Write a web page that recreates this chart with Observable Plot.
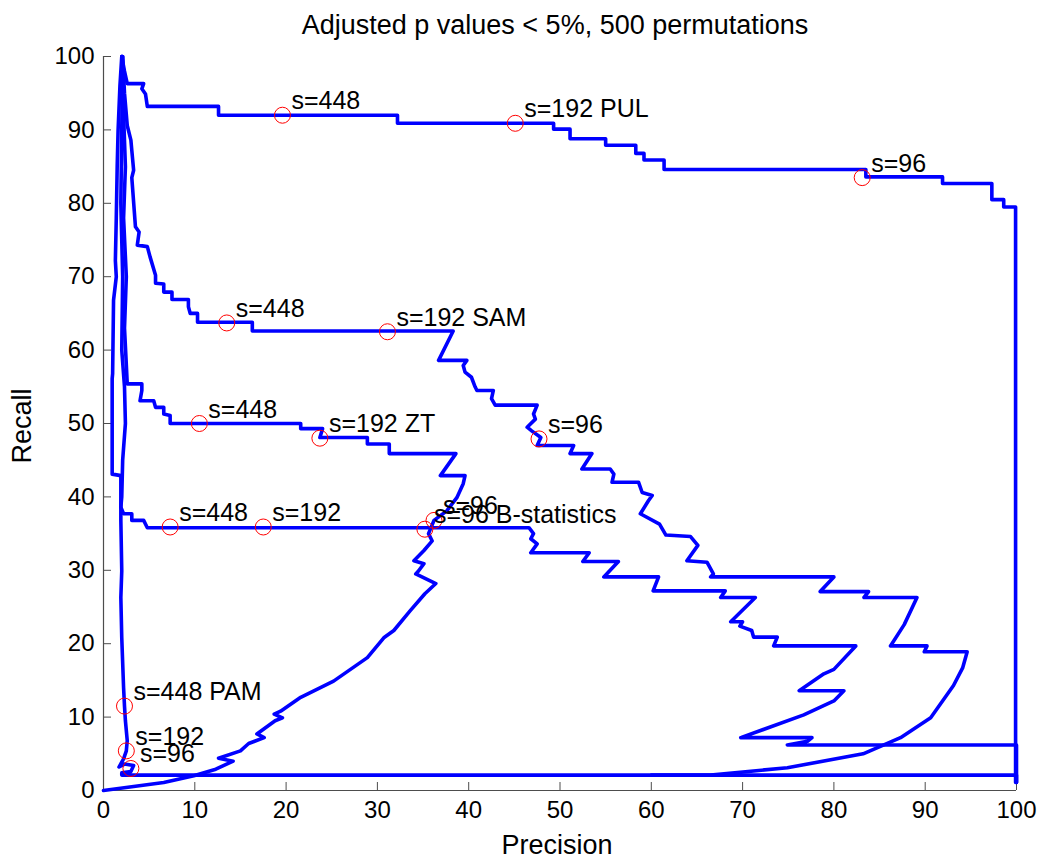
<!DOCTYPE html>
<html>
<head>
<meta charset="utf-8">
<script src="https://cdn.jsdelivr.net/npm/d3@7"></script>
<script src="https://cdn.jsdelivr.net/npm/@observablehq/plot@0.6"></script>
<style>
  html, body { margin: 0; padding: 0; background: #fff; }
  #wrap { width: 1040px; height: 861px; position: relative; font-family: "Liberation Sans", Arial, sans-serif; }
  #title { height: 46px; line-height: 50px; padding-left: 94px; width: 922px; text-align: center; font-size: 27px; color: #000; white-space: nowrap; }
  svg { display: block; }
</style>
</head>
<body>
<div id="wrap">
  <div id="title">Adjusted p values &lt; 5%, 500 permutations</div>
  <div id="chart"></div>
</div>
<script>
// ---- data (precision %, recall %) ----
const pul = [[2.0,100],[2.3,98],[2.6,96.3],[4.4,96.3],[4.2,95.6],[4.6,94.9],[4.8,93.2],[12.6,93.2],[12.6,92.0],[32.2,92.0],[32.2,90.9],[49.3,90.9],[49.3,90.1],[51.1,90.1],[51.1,88.8],[55.0,88.8],[55.0,87.9],[58.3,87.9],[58.3,86.8],[59.2,86.8],[59.2,85.9],[61.4,85.9],[61.4,84.6],[83.5,84.6],[83.5,83.6],[91.9,83.6],[91.9,82.7],[97.3,82.7],[97.3,80.5],[98.6,80.5],[98.6,79.5],[99.9,79.5],[99.9,1.1]];

const sam = [[2.1,100],[2.3,95],[2.6,90.6],[3.0,88.6],[3.1,87.2],[3.3,84.5],[3.1,83.5],[3.5,76.8],[3.9,76.1],[3.7,74.3],[4.8,74.1],[5.1,72.7],[5.7,70.2],[5.7,69.1],[6.6,69.0],[6.6,67.9],[7.5,67.9],[7.5,66.9],[9.3,66.9],[9.3,65.9],[9.5,65.0],[10.3,65.0],[10.3,63.8],[16.3,63.8],[16.3,62.6],[38.3,62.6],[36.7,58.6],[39.8,58.6],[39.4,57.9],[39.6,57.0],[40.3,56.3],[40.7,55.0],[40.9,54.5],[42.7,54.5],[42.5,53.4],[42.9,52.5],[47.5,52.5],[47.1,51.3],[47.3,50.6],[46.4,49.5],[46.9,49.0],[47.9,48.1],[47.5,47.0],[51.5,47.0],[51.1,45.9],[53.5,45.9],[52.4,43.8],[55.5,43.8],[55.9,43.1],[55.7,42.0],[58.6,42.0],[59.0,40.6],[60.1,40.2],[59.7,39.5],[58.8,37.7],[60.9,36.3],[61.6,34.8],[64.3,34.6],[65.1,33.4],[63.9,31.3],[66.1,31.1],[66.8,29.5],[66.5,29.1],[80.0,29.1],[78.5,27.1],[83.8,27.1],[83.3,26.3],[89.1,26.3],[87.7,22.6],[86.2,19.7],[90.2,19.7],[89.9,18.9],[94.6,18.9],[94.1,16.7],[93.1,14.3],[90.6,9.9],[87.3,7.2],[83.2,5.0],[74.9,3.1],[66.5,2.1],[60.0,2.1]];

const zt = [[2.0,100],[2.2,92],[2.4,85],[2.2,78],[2.5,70],[2.3,63],[2.5,58],[2.6,55.4],[4.2,55.4],[4.2,54.5],[4.0,53.1],[5.5,53.1],[5.7,52.2],[6.6,52.2],[6.6,51.3],[7.3,51.1],[7.3,50.0],[21.6,50.0],[21.6,49.3],[24.0,49.3],[23.7,48.1],[28.9,48.1],[28.9,47.2],[31.3,47.2],[31.3,45.9],[38.6,45.9],[36.9,42.9],[39.6,42.9],[39.4,41.8],[38.7,39.9],[37.6,38.1],[36.2,36.8],[35.6,35.0],[36.0,34.0],[35.1,32.7],[34.0,31.3],[35.1,30.9],[34.5,29.9],[34.2,29.5],[36.4,28.2],[35.2,26.8],[33.6,24.5],[31.8,21.8],[30.7,20.8],[28.9,18.1],[25.2,14.9],[21.6,12.7],[19.4,10.8],[18.7,10.4],[19.6,9.9],[18.8,9.5],[16.8,7.7],[17.6,7.2],[15.9,6.4],[15.0,5.4],[12.6,4.4],[14.2,4.0],[12.3,2.9],[9.9,2.0],[6.6,1.1],[0,0]];

const bstat = [[2.1,100],[2.0,90],[1.9,80],[2.1,70],[2.0,60],[2.3,55],[2.4,50],[2.1,45],[2.0,40],[1.9,38.6],[2.2,37.7],[3.1,37.7],[3.1,36.8],[4.4,36.8],[4.8,35.8],[46.6,35.8],[47.1,35.0],[46.8,34.3],[47.5,33.6],[46.8,32.4],[53.2,32.4],[52.5,31.2],[56.4,31.2],[54.8,29.1],[60.8,29.1],[60.2,27.2],[68.1,27.2],[67.6,26.3],[71.4,26.3],[68.7,23.0],[70.0,23.0],[69.7,22.4],[71.0,21.8],[71.2,20.9],[73.8,20.9],[73.4,19.7],[82.4,19.7],[80.0,16.5],[78.9,15.9],[76.2,13.6],[81.1,13.6],[80.0,12.2],[76.7,10.3],[69.8,7.2],[77.6,7.2],[77.1,6.7],[74.9,6.2],[100,6.2],[100,1.1]];

const pam = [[2.0,100],[1.8,96],[1.6,90],[1.5,85],[1.4,78],[1.3,72.2],[1.4,70.0],[1.1,66.8],[1.0,56.8],[0.95,56.1],[0.95,43.1],[1.9,42.9],[1.9,36.8],[2.0,29.9],[1.9,26.3],[2.0,20.8],[2.2,14.0],[2.3,11.5],[2.4,9.5],[2.6,6.8],[2.5,5.4],[2.2,4.3],[1.7,3.2],[2.3,3.6],[3.3,3.4],[3.0,2.6],[2.0,2.4],[2.0,2.1],[100,2.1],[100,1.1]];

// marked points: [precision, recall, label]
const pulMarks   = [[19.6,92.0,"s=448"],[45.1,90.9,"s=192 PUL"],[83.1,83.5,"s=96"]];
const samMarks   = [[13.5,63.7,"s=448"],[31.1,62.5,"s=192 SAM"],[47.7,47.9,"s=96"]];
const ztMarks    = [[10.5,50.0,"s=448"],[23.7,48.0,"s=192 ZT"],[36.2,36.8,"s=96"]];
const bstatMarks = [[7.3,35.9,"s=448"],[17.5,35.9,"s=192"],[35.2,35.6,"s=96 B-statistics"]];
const pamMarks   = [[2.3,11.5,"s=448 PAM"],[2.5,5.4,"s=192"],[3.0,3.0,"s=96"]];

const xTicks = [0,10,20,30,40,50,60,70,80,90,100];
const yTicks = [0,10,20,30,40,50,60,70,80,90,100];

// ---- build tables ----
const series = {PUL: pul, SAM: sam, ZT: zt, B: bstat, PAM: pam};
const lineRows = [];
for (const [name, pts] of Object.entries(series)) pts.forEach(([x, y]) => lineRows.push({name, x, y}));
const markRows = [...pulMarks, ...samMarks, ...ztMarks, ...bstatMarks, ...pamMarks].map(([x, y, label]) => ({x, y, label}));

const axisColor = "#4d4d4d";
const font = "'Liberation Sans', Arial, sans-serif";

const chart = Plot.plot({
  width: 1040,
  height: 815,
  marginLeft: 103,
  marginRight: 24,
  marginTop: 10,
  marginBottom: 71,
  x: {domain: [0, 100]},
  y: {domain: [0, 100]},
  style: {fontFamily: font, fontSize: "24px", color: "#000", background: "#fff", overflow: "visible"},
  marks: [
    Plot.axisX(xTicks, {tickSize: 0, tickPadding: 10, fontSize: 24, label: null, tickFormat: d => String(d)}),
    Plot.axisY(yTicks, {tickSize: 0, tickPadding: 9, fontSize: 24, label: null, tickFormat: d => String(d)}),
    Plot.tickX(xTicks, {x: d => d, insetTop: 726, stroke: axisColor, strokeWidth: 1}),
    Plot.tickY(yTicks, {y: d => d, insetRight: 905, stroke: axisColor, strokeWidth: 1}),
    Plot.ruleX([0], {stroke: axisColor, strokeWidth: 1.2}),
    Plot.ruleY([0], {stroke: axisColor, strokeWidth: 1.2}),
    Plot.line(lineRows, {x: "x", y: "y", z: "name", stroke: "#0000ff", strokeWidth: 3.6, strokeLinejoin: "round", strokeLinecap: "round", curve: "linear"}),
    Plot.dot(markRows, {x: "x", y: "y", r: 8, stroke: "#ff0000", strokeWidth: 1, fill: "none"}),
    Plot.text(markRows, {x: "x", y: "y", text: "label", textAnchor: "start", lineAnchor: "middle", dx: 9, dy: -14, fontSize: 25, fill: "#000"}),
    Plot.text(["Precision"], {frameAnchor: "bottom", dx: -3, dy: 55, lineAnchor: "middle", fontSize: 27, fill: "#000"}),
    Plot.text(["Recall"], {frameAnchor: "left", dx: -81, dy: 40, rotate: -90, lineAnchor: "middle", fontSize: 27, fill: "#000"})
  ]
});
document.getElementById("chart").appendChild(chart);
</script>
</body>
</html>
